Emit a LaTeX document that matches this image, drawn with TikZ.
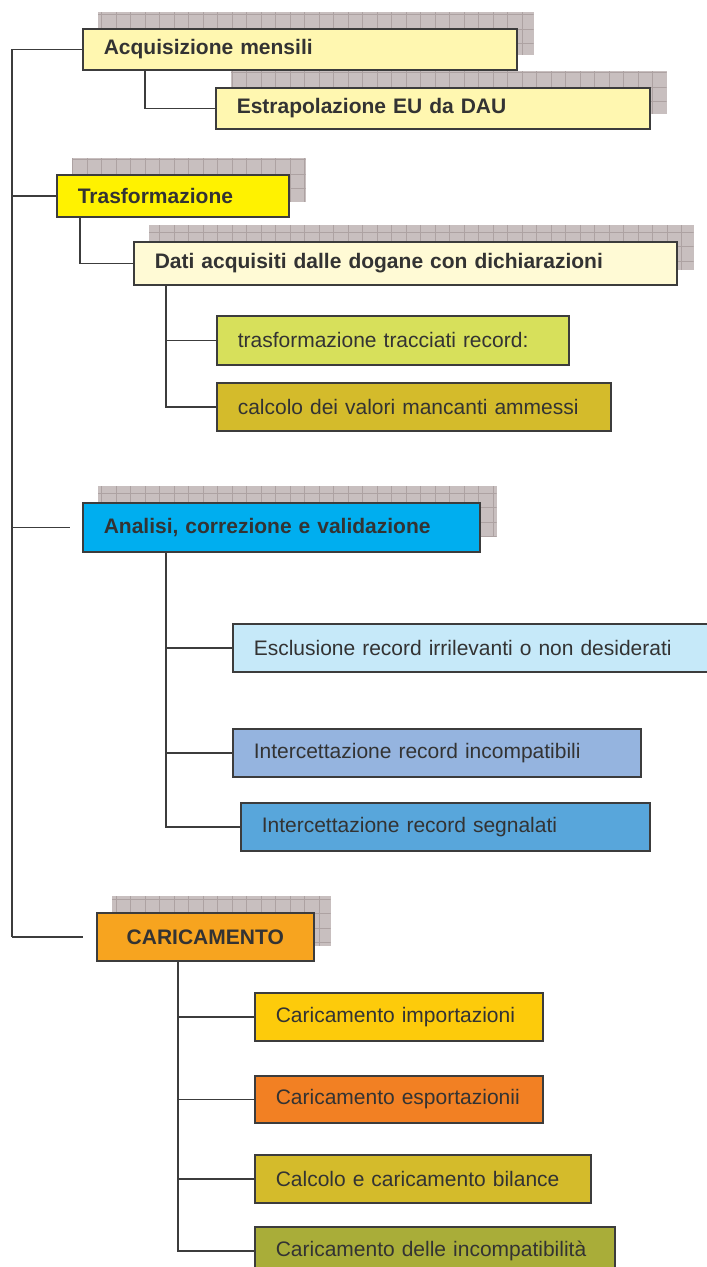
\documentclass[tikz,border=0pt]{standalone}
\usepackage{fontspec}
\setmainfont{Liberation Sans}
\usetikzlibrary{backgrounds,calc}

\definecolor{boxline}{HTML}{3C3C3C}
\definecolor{textgrey}{HTML}{333333}
\definecolor{shadegrey}{HTML}{C8BFBF}
\definecolor{gridgrey}{HTML}{ADA2A2}
\definecolor{paleyellow}{HTML}{FFF7B0}
\definecolor{brightyellow}{HTML}{FFF200}
\definecolor{cream}{HTML}{FFFAD5}
\definecolor{lime}{HTML}{D7E05B}
\definecolor{ochre}{HTML}{D4BB2B}
\definecolor{cyanblue}{HTML}{00AEEF}
\definecolor{paleblue}{HTML}{C6E9F9}
\definecolor{greyblue}{HTML}{95B4DF}
\definecolor{midblue}{HTML}{58A6DB}
\definecolor{orangeyellow}{HTML}{F7A41F}
\definecolor{gold}{HTML}{FDCB0B}
\definecolor{orange}{HTML}{F28023}
\definecolor{olive}{HTML}{A9AD39}

% grey grid shadow behind a heading box
\newcommand{\gridshadow}[1]{%
  \path[fill=shadegrey, path picture={\draw[gridgrey, line width=0.5pt, step=14.5pt]
      (path picture bounding box.south west) grid (path picture bounding box.north east);}]
    ($(#1.north west)+(16,-16)$) rectangle ($(#1.south east)+(16,-16)$);}

\begin{document}
\begin{tikzpicture}[x=1pt, y=-1pt,
  taskbox/.style={draw=boxline, line width=1.6pt, anchor=north west, inner xsep=21pt,
    inner ysep=0pt, align=left, text=textgrey, font=\fontsize{21}{24}\selectfont},
  phasebox/.style={taskbox, font=\bfseries\fontsize{21}{24}\selectfont},
  conn/.style={draw=boxline, line width=1.6pt}]
\useasboundingbox (0,0) rectangle (707,1267);

\node[phasebox, fill=paleyellow, text width=392pt, minimum height=41pt] (acq) at (82,28) {Acquisizione mensili};
\node[phasebox, fill=paleyellow, text width=392pt, minimum height=41pt] (estr) at (215,87) {Estrapolazione EU da DAU};
\node[phasebox, fill=brightyellow, text width=190pt, minimum height=42pt] (tras) at (56,174) {Trasformazione};
\node[phasebox, fill=cream, text width=501pt, minimum height=43pt] (dati) at (133,241) {Dati acquisiti dalle dogane con dichiarazioni};
\node[taskbox, fill=lime, text width=310pt, minimum height=49pt] (tracc) at (216,315) {trasformazione tracciati record:};
\node[taskbox, fill=ochre, text width=352pt, minimum height=48pt] (calc) at (216,382) {calcolo dei valori mancanti ammessi};

\node[phasebox, fill=cyanblue, text width=355pt, minimum height=49pt] (anal) at (82,502) {Analisi, correzione e validazione};
\node[taskbox, fill=paleblue, text width=438pt, minimum height=48pt] (escl) at (232,623) {Esclusione record irrilevanti o non desiderati};
\node[taskbox, fill=greyblue, text width=366pt, minimum height=48pt] (incomp) at (232,728) {Intercettazione record incompatibili};
\node[taskbox, fill=midblue, text width=367pt, minimum height=48pt] (segn) at (240,802) {Intercettazione record segnalati};

\node[phasebox, fill=orangeyellow, text width=175pt, minimum height=48pt, align=center] (car) at (96,912) {CARICAMENTO};
\node[taskbox, fill=gold, text width=246pt, minimum height=48pt] (imp) at (254,992) {Caricamento importazioni};
\node[taskbox, fill=orange, text width=246pt, minimum height=47pt] (exp) at (254,1075) {Caricamento esportazionii};
\node[taskbox, fill=ochre, text width=294pt, minimum height=48pt] (bil) at (254,1154) {Calcolo e caricamento bilance};
\node[taskbox, fill=olive, text width=318pt, minimum height=48pt] (incompat) at (254,1226) {Caricamento delle incompatibilità};

\begin{scope}[on background layer]
\gridshadow{acq}
\gridshadow{estr}
\gridshadow{tras}
\gridshadow{dati}
\gridshadow{anal}
\gridshadow{car}
\end{scope}

% main trunk
\coordinate (trunk) at (12,0);
\draw[conn] (acq.west) -| (trunk |- car.west);
\draw[conn, shorten >=13pt] (trunk |- car.west) -- (car.west);
\draw[conn] (trunk |- tras.west) -- (tras.west);
\draw[conn, shorten >=12pt] (trunk |- anal.west) -- (anal.west);

% branches
\draw[conn] ([xshift=63pt]acq.south west) |- (estr.west);
\draw[conn] ([xshift=24pt]tras.south west) |- (dati.west);
\draw[conn] ([xshift=33pt]dati.south west) |- (tracc.west);
\draw[conn] ([xshift=33pt]dati.south west) |- (calc.west);
\draw[conn] ([xshift=84pt]anal.south west) |- (escl.west);
\draw[conn] ([xshift=84pt]anal.south west) |- (incomp.west);
\draw[conn] ([xshift=84pt]anal.south west) |- (segn.west);
\draw[conn] ([xshift=82pt]car.south west) |- (imp.west);
\draw[conn] ([xshift=82pt]car.south west) |- (exp.west);
\draw[conn] ([xshift=82pt]car.south west) |- (bil.west);
\draw[conn] ([xshift=82pt]car.south west) |- (incompat.west);
\end{tikzpicture}
\end{document}
